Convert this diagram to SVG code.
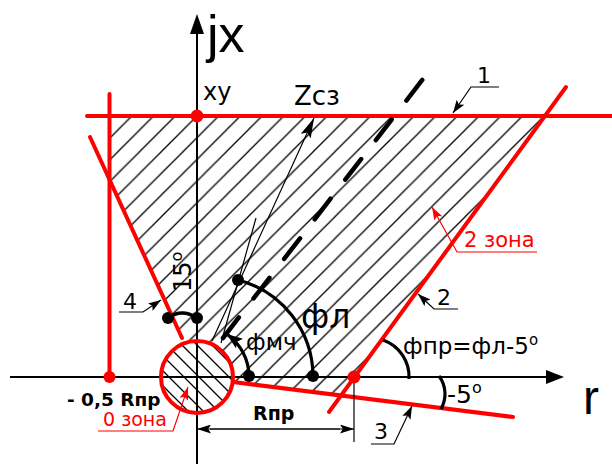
<svg xmlns="http://www.w3.org/2000/svg" width="612" height="464" viewBox="0 0 612 464">
<style>
text{font-family:"DejaVu Sans","Liberation Sans",sans-serif;fill:#000}
.red{stroke:#f00;stroke-width:4;fill:none;stroke-linecap:round}
.ax{stroke:#000;stroke-width:2;fill:none}
.thin{stroke:#000;stroke-width:1.2;fill:none}
.thinr{stroke:#f00;stroke-width:1.2;fill:none}
.arc{stroke:#000;stroke-width:3.2;fill:none}
.dot{fill:#000}
.rdot{fill:#f00}
.rt{fill:#f00}
</style>
<defs>
<pattern id="h1" patternUnits="userSpaceOnUse" x="9.2" y="0" width="21.7" height="21.7">
<path d="M0,21.7 L21.7,0 M-2,2 L2,-2 M19.7,23.7 L23.7,19.7" stroke="#000" stroke-width="1.3"/>
</pattern>
<pattern id="h2" patternUnits="userSpaceOnUse" x="2" y="0" width="15" height="15">
<path d="M0,0 L15,15 M-2,13 L2,17 M13,-2 L17,2" stroke="#000" stroke-width="1.3"/>
</pattern>
<marker id="ak" viewBox="0 0 10 10" refX="10" refY="5" markerWidth="13" markerHeight="9" markerUnits="userSpaceOnUse" orient="auto" preserveAspectRatio="none"><path d="M0,0 L10,5 L0,10 L2,5 z" fill="#000"/></marker>
<marker id="ar" viewBox="0 0 10 10" refX="10" refY="5" markerWidth="13" markerHeight="9" markerUnits="userSpaceOnUse" orient="auto" preserveAspectRatio="none"><path d="M0,0 L10,5 L0,10 L2,5 z" fill="#f00"/></marker>
<marker id="az" viewBox="0 0 10 10" refX="10" refY="5" markerWidth="20" markerHeight="11" markerUnits="userSpaceOnUse" orient="auto" preserveAspectRatio="none"><path d="M0,0 L10,5 L0,10 L2,5 z" fill="#000"/></marker>
<marker id="am" viewBox="0 0 10 10" refX="9" refY="5" markerWidth="16" markerHeight="12" markerUnits="userSpaceOnUse" orient="auto" preserveAspectRatio="none"><path d="M0,0 L10,5 L0,10 L2,5 z" fill="#000"/></marker>
<marker id="ad" viewBox="0 0 10 10" refX="10" refY="5" markerWidth="14" markerHeight="9" markerUnits="userSpaceOnUse" orient="auto" preserveAspectRatio="none"><path d="M0,0 L10,5 L0,10 L2,5 z" fill="#000"/></marker>
</defs>

<g id="zone1-hatch">
<polygon points="109.5,116 545,116 341,395.5 233,382 197,377 182,338 109.5,179.6" fill="url(#h1)"/>
</g>

<g id="zone0">
<circle cx="197" cy="377" r="36" fill="#fff"/>
<circle cx="197" cy="377" r="36" fill="url(#h2)"/>
</g>

<g id="axes">
<line class="ax" x1="10" y1="377" x2="550" y2="377"/>
<polygon points="564,377 546,370 546,384" fill="#000"/>
<line class="ax" x1="197" y1="464" x2="197" y2="30"/>
<polygon points="197,14 190,34 204,34" fill="#000"/>
</g>

<g id="red-lines">
<line class="red" x1="87" y1="116" x2="612" y2="116"/>
<line class="red" x1="109.5" y1="94" x2="109.5" y2="377"/>
<line class="red" x1="90" y1="137" x2="182" y2="338"/>
<line class="red" x1="329" y1="412" x2="566" y2="87"/>
<line class="red" x1="233" y1="382" x2="513" y2="417"/>
<circle class="red" cx="197" cy="377" r="36"/>
</g>

<g id="connectors">
<path class="thin" d="M212,341 L314,118" marker-end="url(#az)" stroke-width="1.5"/>
<path class="thin" d="M221,343 L256,218" stroke-width="1.5"/>
<path d="M223,338 L423,79" stroke="#000" stroke-width="4.5" stroke-linecap="round" stroke-dasharray="26 24" fill="none"/>
<path class="arc" d="M238,280 A100,100 0 0 1 313,376"/>
<path class="arc" d="M249,376 A52,52 0 0 0 228,335" marker-end="url(#am)"/>
<path class="arc" d="M383,340 A39,39 0 0 1 409,379"/>
<path class="arc" d="M439,376 A30,30 0 0 1 441,409"/>
<path class="arc" d="M168,318 Q182,308 197,318"/>
<path class="thin" d="M210,429 L354,429" marker-end="url(#ad)"/>
<path class="thin" d="M340,429 L197,429" marker-end="url(#ad)"/>
<line class="thin" x1="354" y1="383" x2="354" y2="442"/>
<path class="thin" d="M499,87 H471 L453,113" marker-end="url(#ak)"/>
<path class="thin" d="M458,309 H434 L418,294" marker-end="url(#ak)"/>
<path class="thin" d="M371,444 H394 L412,406" marker-end="url(#ak)"/>
<path class="thin" d="M119,312 H143 L161,300" marker-end="url(#ak)"/>
<path class="thinr" d="M537,252 H457 L432,207" marker-end="url(#ar)"/>
<path class="thinr" d="M98,431 H173 L188,387" marker-end="url(#ar)"/>
</g>

<g id="points">
<circle class="rdot" cx="197" cy="116" r="6.5"/>
<circle class="rdot" cx="109.5" cy="377" r="6"/>
<circle class="rdot" cx="354" cy="377" r="6.5"/>
<circle class="dot" cx="168" cy="318" r="6"/>
<circle class="dot" cx="197" cy="318" r="6"/>
<circle class="dot" cx="238" cy="280" r="6"/>
<circle class="dot" cx="249" cy="376" r="6"/>
<circle class="dot" cx="313" cy="376" r="6"/>
</g>

<g id="labels">
<text x="207" y="52" font-size="52" style="font-family:'Liberation Sans',sans-serif">jx</text>
<text x="203" y="100" font-size="24">xy</text>
<text x="294" y="105" font-size="26">Zcз</text>
<text x="583" y="414" font-size="48" style="font-family:'Liberation Sans',sans-serif">r</text>
<text x="477" y="83" font-size="22">1</text>
<text x="437" y="305" font-size="22">2</text>
<text x="374" y="439" font-size="22">3</text>
<text x="123" y="309" font-size="22">4</text>
<text x="464" y="247" font-size="21" class="rt">2 зона</text>
<text x="103" y="426" font-size="19" class="rt">0 зона</text>
<text x="67" y="406" font-size="18.5" font-weight="bold">- 0,5 Rпр</text>
<text x="253" y="420" font-size="19" font-weight="bold">Rпр</text>
<text x="301" y="328" font-size="33">фл</text>
<text x="246" y="350" font-size="23">фмч</text>
<text x="403" y="354" font-size="23">фпр=фл-5<tspan dy="-9" font-size="15">o</tspan></text>
<text x="447" y="403" font-size="25">-5<tspan dy="-10" font-size="16">o</tspan></text>
<text transform="translate(191,292) rotate(-90)" font-size="24">15<tspan dy="-9" font-size="16">o</tspan></text>
</g>
</svg>
